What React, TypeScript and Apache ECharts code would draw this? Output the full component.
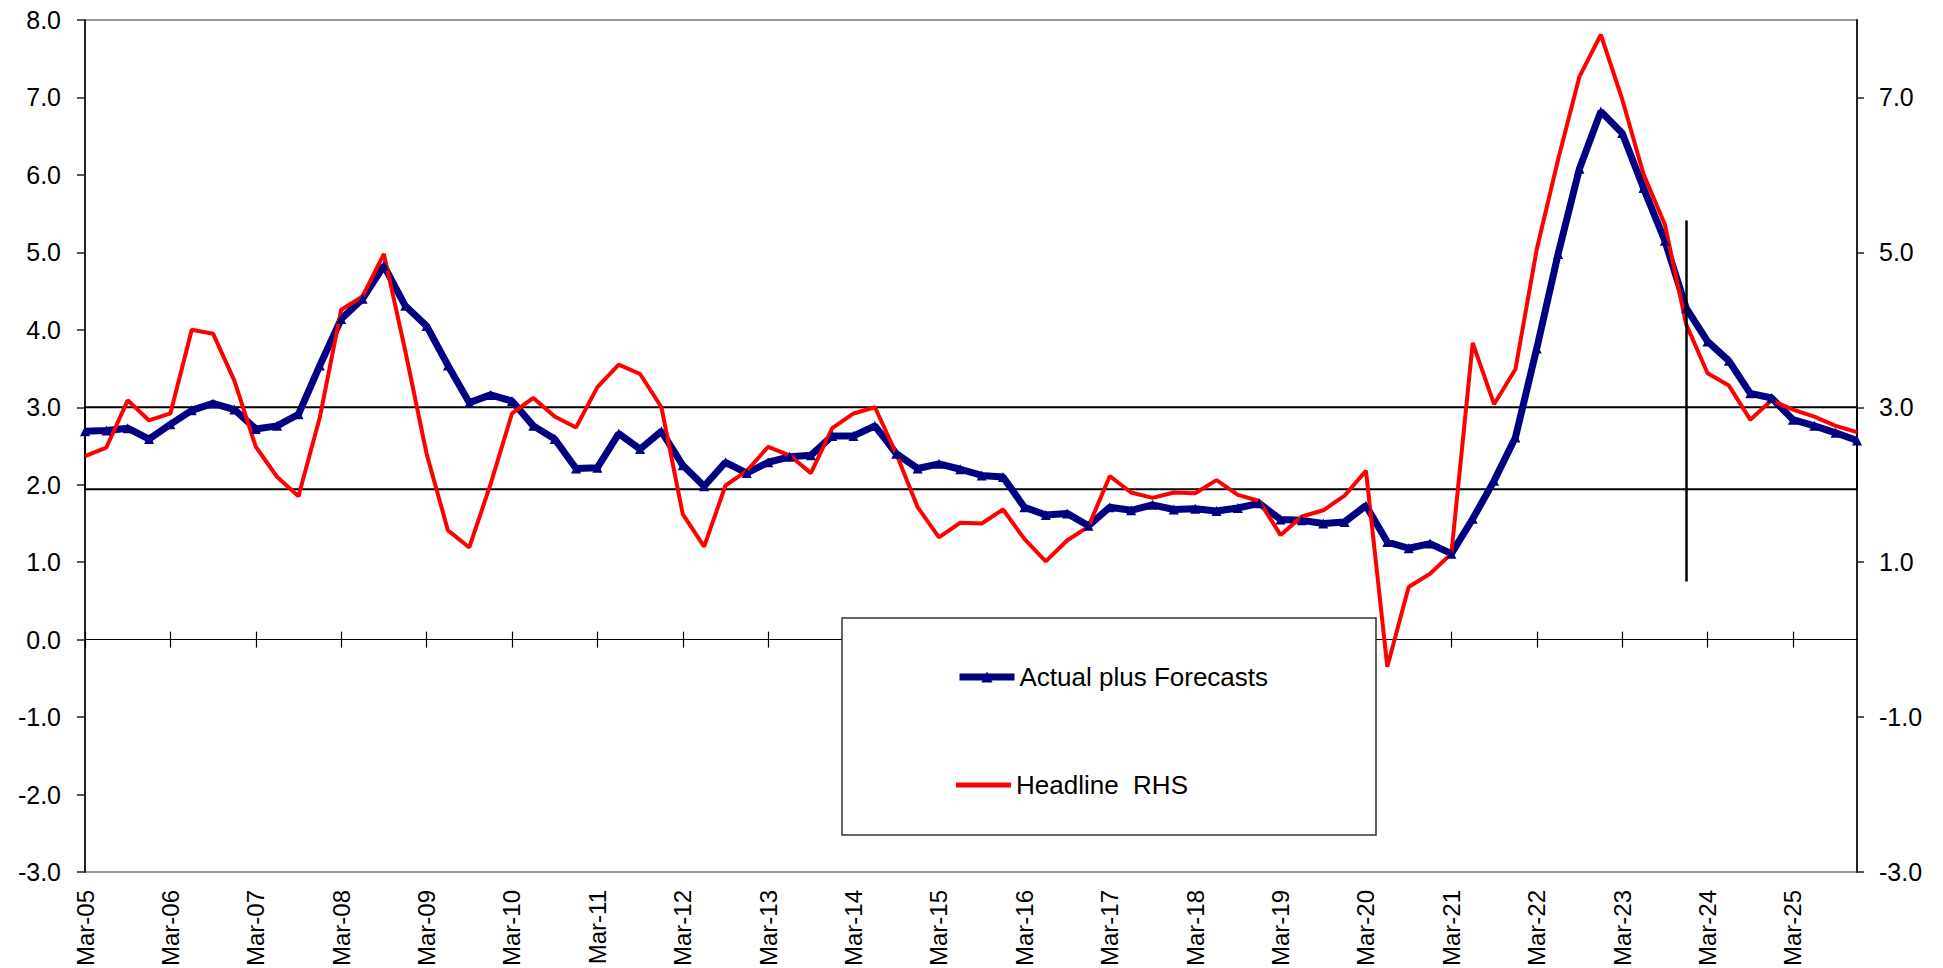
import React, { useEffect, useRef } from "react";
import * as echarts from "echarts";

const years = ["05","06","07","08","09","10","11","12","13","14","15","16","17","18","19","20","21","22","23","24","25"];
const quarterMonths = ["Mar", "Jun", "Sep", "Dec"];
const categories: string[] = [];
years.forEach((y) => quarterMonths.forEach((m) => categories.push(`${m}-${y}`)));

const actualPlusForecasts = [
  2.69, 2.70, 2.73, 2.59, 2.78, 2.96, 3.05, 2.97, 2.72, 2.76, 2.91, 3.54,
  4.14, 4.40, 4.83, 4.31, 4.05, 3.54, 3.06, 3.16, 3.08, 2.76, 2.59, 2.21,
  2.22, 2.66, 2.46, 2.69, 2.25, 1.98, 2.29, 2.15, 2.29, 2.36, 2.38, 2.63,
  2.63, 2.76, 2.40, 2.21, 2.27, 2.20, 2.12, 2.10, 1.71, 1.61, 1.63, 1.47,
  1.71, 1.67, 1.74, 1.68, 1.69, 1.66, 1.70, 1.76, 1.55, 1.54, 1.50, 1.52,
  1.73, 1.26, 1.18, 1.24, 1.11, 1.56, 2.05, 2.61, 3.76, 4.98, 6.08, 6.82,
  6.54, 5.83, 5.15, 4.28, 3.85, 3.60, 3.18, 3.12, 2.84, 2.76, 2.67, 2.57,
];

const headlineRHS = [
  2.37, 2.48, 3.09, 2.83, 2.92, 4.00, 3.95, 3.34, 2.49, 2.10, 1.85, 2.87,
  4.26, 4.43, 4.98, 3.73, 2.40, 1.41, 1.19, 2.01, 2.92, 3.12, 2.88, 2.74,
  3.26, 3.55, 3.43, 3.00, 1.62, 1.20, 1.99, 2.18, 2.49, 2.38, 2.15, 2.73,
  2.92, 3.00, 2.40, 1.71, 1.32, 1.51, 1.50, 1.68, 1.30, 1.01, 1.28, 1.46,
  2.11, 1.90, 1.83, 1.90, 1.89, 2.06, 1.87, 1.79, 1.35, 1.59, 1.67, 1.86,
  2.18, -0.35, 0.68, 0.85, 1.11, 3.83, 3.04, 3.49, 5.04, 6.20, 7.27, 7.81,
  6.98, 6.01, 5.36, 4.07, 3.44, 3.28, 2.84, 3.09, 2.97, 2.88, 2.76, 2.68,
];

// target band (value axis) and forecast divider
const bandRange = [1.94, 3.0];
const bandXRange = [0.3, 82.84];
const dividerIndex = 75;
const dividerRange = [0.75, 5.41];

const FONT = "'Liberation Sans', Arial, sans-serif";

export default function App() {
  const ref = useRef<HTMLDivElement>(null);
  useEffect(() => {
    if (!ref.current) return;
    const chart = echarts.init(ref.current, undefined, { renderer: "svg" });
    const labelStyle = { fontFamily: FONT, fontSize: 25, color: "#000" };
    chart.setOption({
      animation: false,
      backgroundColor: "#fff",
      grid: {
        left: 85,
        right: 86,
        top: 20,
        bottom: 96,
        containLabel: false,
        outerBoundsMode: "none",
        show: true,
        borderColor: "#9a9a9a",
        borderWidth: 2,
        backgroundColor: "transparent",
      },
      xAxis: [
        {
          type: "category",
          data: categories,
          boundaryGap: false,
          position: "bottom",
          axisLine: { onZero: true, lineStyle: { color: "#000", width: 1.2 } },
          axisTick: { interval: 3, length: 8, lineStyle: { color: "#000", width: 1.2 } },
          axisLabel: { show: false },
          splitLine: { show: false },
        },
        {
          type: "category",
          data: categories,
          boundaryGap: false,
          position: "top",
          axisLine: { onZero: true, lineStyle: { color: "#000", width: 1.2 } },
          axisTick: { interval: 3, length: 8, lineStyle: { color: "#000", width: 1.2 } },
          axisLabel: { show: false },
          splitLine: { show: false },
        },
        {
          type: "category",
          data: categories,
          boundaryGap: false,
          position: "bottom",
          axisLine: { show: false, onZero: false },
          axisTick: { show: false },
          axisLabel: { ...labelStyle, fontSize: 24, interval: 3, rotate: 90, margin: 18 },
          splitLine: { show: false },
        },
      ],
      yAxis: [
        {
          type: "value",
          position: "left",
          min: -3,
          max: 8,
          interval: 1,
          axisLine: { show: true, onZero: false, lineStyle: { color: "#222", width: 2 } },
          axisTick: { show: true, length: 8, lineStyle: { color: "#222", width: 1.5 } },
          axisLabel: { ...labelStyle, margin: 24, formatter: (v: number) => v.toFixed(1) },
          splitLine: { show: false },
        },
        {
          type: "value",
          position: "right",
          min: -3,
          max: 8,
          interval: 2,
          axisLine: { show: true, onZero: false, lineStyle: { color: "#222", width: 2 } },
          axisTick: { show: true, length: 7, lineStyle: { color: "#222", width: 1.5 } },
          axisLabel: {
            ...labelStyle,
            margin: 22,
            showMaxLabel: false,
            formatter: (v: number) => (Math.abs(Math.round(v)) % 2 === 1 ? v.toFixed(1) : ""),
          },
          splitLine: { show: false },
        },
      ],
      legend: [
        {
          data: ["Actual plus Forecasts"],
          left: 951,
          top: 659,
          itemWidth: 55,
          itemHeight: 14,
          z: 10,
          selectedMode: false,
          lineStyle: { width: 7 },
          textStyle: { fontFamily: FONT, fontSize: 26, color: "#000" },
        },
        {
          data: [{ name: "Headline  RHS", icon: "rect" }],
          left: 951,
          top: 767,
          itemWidth: 55,
          itemHeight: 5,
          z: 10,
          selectedMode: false,
          textStyle: { fontFamily: FONT, fontSize: 26, color: "#000" },
        },
      ],
      graphic: [
        {
          type: "rect",
          z: 5,
          shape: { x: 842, y: 618, width: 534, height: 217 },
          style: { fill: "#fff", stroke: "#333", lineWidth: 1.5 },
        },
      ],
      series: [
        {
          name: "Actual plus Forecasts",
          type: "line",
          xAxisIndex: 0,
          yAxisIndex: 0,
          data: actualPlusForecasts,
          symbol: "triangle",
          symbolSize: 10,
          showAllSymbol: true,
          lineStyle: { color: "#000080", width: 7 },
          itemStyle: { color: "#000080" },
          markArea: {
            silent: true,
            label: { show: false },
            itemStyle: { color: "rgba(0,0,0,0)", borderColor: "#000", borderWidth: 2 },
            data: [[{ coord: [bandXRange[0], bandRange[1]] }, { coord: [bandXRange[1], bandRange[0]] }]],
          },
        },
        {
          name: "Headline  RHS",
          type: "line",
          xAxisIndex: 0,
          yAxisIndex: 1,
          data: headlineRHS,
          symbol: "none",
          lineStyle: { color: "#ff0000", width: 4 },
          itemStyle: { color: "#ff0000" },
          markLine: {
            silent: true,
            symbol: ["none", "none"],
            label: { show: false },
            lineStyle: { color: "#000", width: 2.5, type: "solid" },
            data: [[{ coord: [dividerIndex, dividerRange[1]] }, { coord: [dividerIndex, dividerRange[0]] }]],
          },
        },
      ],
    });
    return () => chart.dispose();
  }, []);
  return (
    <div
      ref={ref}
      style={{ position: "fixed", left: 0, top: 0, width: 1943, height: 968, background: "#fff" }}
    />
  );
}
